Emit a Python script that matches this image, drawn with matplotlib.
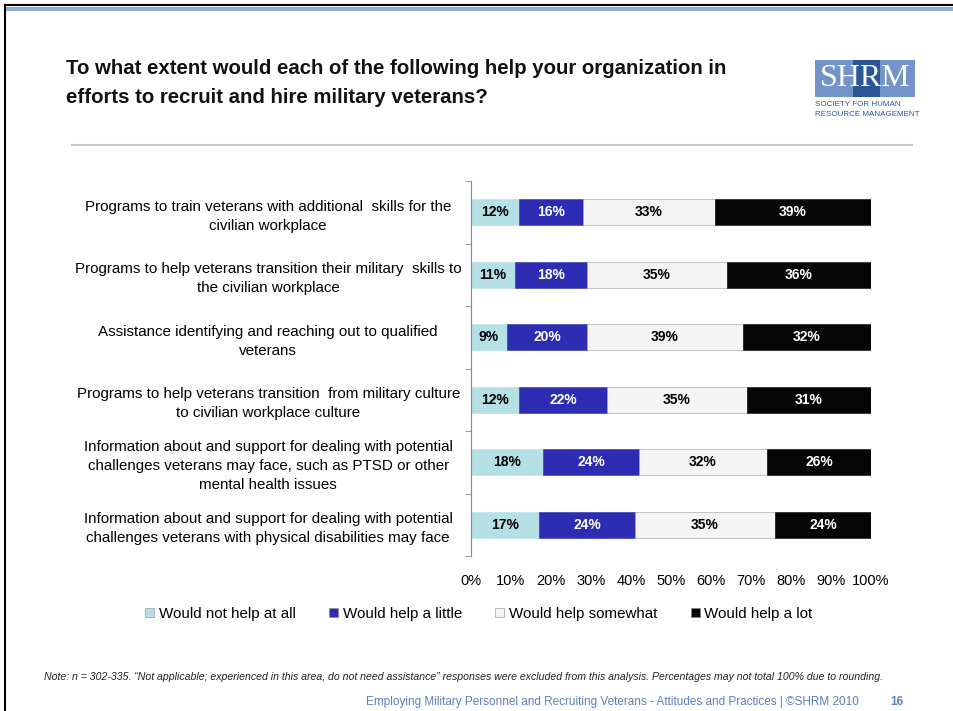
import matplotlib
matplotlib.use("Agg")
import matplotlib.pyplot as plt
from matplotlib.patches import Rectangle
import numpy as np

plt.rcParams["font.family"] = ["Liberation Sans", "DejaVu Sans"]

# data
categories = [
    "Programs to train veterans with additional  skills for the\ncivilian workplace",
    "Programs to help veterans transition their military  skills to\nthe civilian workplace",
    "Assistance identifying and reaching out to qualified\nveterans",
    "Programs to help veterans transition  from military culture\nto civilian workplace culture",
    "Information about and support for dealing with potential\nchallenges veterans may face, such as PTSD or other\nmental health issues",
    "Information about and support for dealing with potential\nchallenges veterans with physical disabilities may face",
]
series_names = ["Would not help at all", "Would help a little", "Would help somewhat", "Would help a lot"]
not_at_all = [12, 11, 9, 12, 18, 17]
a_little = [16, 18, 20, 22, 24, 24]
somewhat = [33, 35, 39, 35, 32, 35]
a_lot = [39, 36, 32, 31, 26, 24]
xtick_labels = ["0%", "10%", "20%", "30%", "40%", "50%", "60%", "70%", "80%", "90%", "100%"]

colors = ["#b5e0e6", "#2d2db4", "#f4f4f4", "#050505"]
text_colors = ["black", "white", "black", "white"]

W, H = 954, 711
fig = plt.figure(figsize=(W / 100, H / 100), dpi=100)

# slide frame
bg = fig.add_axes([0, 0, 1, 1])
bg.set_xlim(0, W)
bg.set_ylim(H, 0)
bg.axis("off")
bg.plot([5, 5], [5, H], color="black", lw=1.5)
bg.plot([5, W], [5, 5], color="black", lw=1.5)
bg.add_patch(Rectangle((6, 7), W - 6, 4, color="#8eaad8", lw=0))
bg.plot([72, 912], [145, 145], color="#c8c8c8", lw=1.5)

# title
bg.text(66, 83, "To what extent would each of the following help your organization in\nefforts to recruit and hire military veterans?",
        fontsize=14.7, fontweight="bold", va="center", ha="left", linespacing=1.65, color="#111111")

# SHRM logo
bg.add_patch(Rectangle((815, 60), 100, 37, color="#7394c9", lw=0))
bg.add_patch(Rectangle((853, 60), 27, 37, color="#2a5597", lw=0))
bg.text(865, 79, "SHRM", fontsize=23, family="Liberation Serif", color="white", ha="center", va="center")
bg.text(815, 105, "SOCIETY FOR HUMAN", fontsize=5.8, color="#2a5597", ha="left", va="center")
bg.text(815, 115, "RESOURCE MANAGEMENT", fontsize=5.8, color="#2a5597", ha="left", va="center")

# note and footer
bg.text(44, 677, "Note: n = 302-335. \u201cNot applicable; experienced in this area, do not need assistance\u201d responses were excluded from this analysis. Percentages may not total 100% due to rounding.",
        fontsize=7.6, style="italic", ha="left", va="center", color="#222222")
bg.text(366, 702, "Employing Military Personnel and Recruiting Veterans - Attitudes and Practices | \u00a9SHRM 2010",
        fontsize=8.5, ha="left", va="center", color="#5b7fbf")
bg.text(897, 702, "16", fontsize=8.5, ha="center", va="center", color="#5b7fbf", fontweight="bold")

# chart axes
x0, x1 = 471, 871
y_top, y_bot = 181, 556
ax = fig.add_axes([x0 / W, 1 - y_bot / H, (x1 - x0) / W, (y_bot - y_top) / H])

data = np.array([not_at_all, a_little, somewhat, a_lot])
ypos = np.arange(len(categories))
left = np.zeros(len(categories))
for i, vals in enumerate(data):
    ax.barh(ypos, vals, left=left, height=0.42, color=colors[i], edgecolor="#9a9a9a" if i == 2 else colors[i],
            linewidth=0.4, label=series_names[i])
    for y, v, l in zip(ypos, vals, left):
        ax.text(l + v / 2, y, f"{v}%", ha="center", va="center", fontsize=10, fontweight="bold",
                color=text_colors[i])
    left += vals

ax.set_xlim(0, 100)
ax.set_ylim(len(categories) - 0.5, -0.5)
ax.set_xticks(np.arange(0, 101, 10))
ax.set_xticklabels(xtick_labels, fontsize=10.5)
ax.set_yticks(ypos)
ax.set_yticklabels(categories, fontsize=10.9, ha="center", linespacing=1.45)
ax.tick_params(axis="y", length=0, pad=146)
ax.set_yticks(np.arange(-0.5, len(categories)), minor=True)
ax.tick_params(axis="y", which="minor", length=4, color="#888888")
ax.tick_params(axis="x", length=0, pad=13)
for s in ["top", "right", "bottom"]:
    ax.spines[s].set_visible(False)
ax.spines["left"].set_color("#888888")

leg = ax.legend(loc="center", bbox_to_anchor=(0.02, -58 / 375), ncol=4, frameon=False,
                fontsize=10.9, handlelength=0.6, handleheight=0.6, handletextpad=0.3, columnspacing=2.2)
for h in leg.legend_handles:
    h.set_edgecolor("#888888")

fig.savefig("out.png", dpi=100)
